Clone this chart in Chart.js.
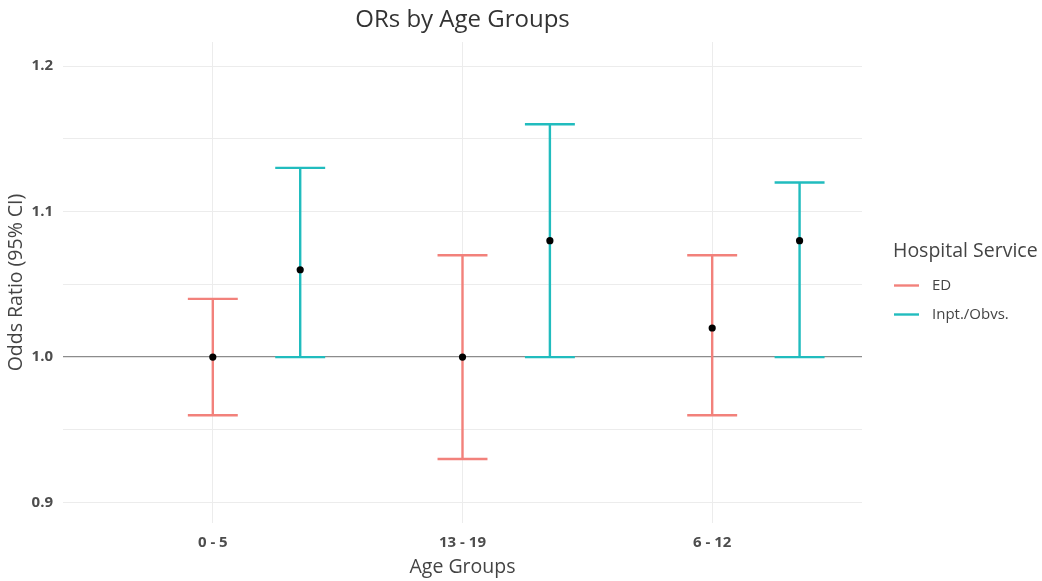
<!DOCTYPE html>
<html>
<head>
<meta charset="utf-8">
<script src="https://cdn.jsdelivr.net/npm/chart.js@4.4.1/dist/chart.umd.min.js"></script>
<style>
  body { margin: 0; background: #fff; }
</style>
</head>
<body>
<canvas id="orChart" width="1042" height="581"></canvas>
<script>
const ageGroups = ["0 - 5", "13 - 19", "6 - 12"]
const services = ["ED", "Inpt./Obvs."]
const edOR = [1.00, 1.00, 1.02]
const edLow = [0.96, 0.93, 0.96]
const edHigh = [1.04, 1.07, 1.07]
const inptOR = [1.06, 1.08, 1.08]
const inptLow = [1.00, 1.00, 1.00]
const inptHigh = [1.13, 1.16, 1.12]
const yTicks = [0.9, 0.95, 1.0, 1.05, 1.1, 1.15, 1.2]
const yTickLabels = ["0.9", "", "1.0", "", "1.1", "", "1.2"]
const chartTitle = "ORs by Age Groups"

// styling
const serviceColors = ["#F2817B", "#21BCBE"]
const dodge = [0, 0.35]
const capHalf = 0.1
const fontFamily = "'Open Sans', 'Noto Sans', sans-serif"

function makePoints(values, offset) {
    return values.map((v, j) => ({ x: j + 1 + offset, y: v }))
}

const errorBars = {
    id: 'errorBars',
    beforeDatasetsDraw(chart) {
        const ctx = chart.ctx
        const xs = chart.scales.x
        const ys = chart.scales.y
        chart.data.datasets.forEach((ds, i) => {
            ctx.save()
            ctx.strokeStyle = serviceColors[i]
            ctx.lineWidth = 2.4
            ds.data.forEach((p, j) => {
                const x = xs.getPixelForValue(p.x)
                const xl = xs.getPixelForValue(p.x - capHalf)
                const xr = xs.getPixelForValue(p.x + capHalf)
                const yl = ys.getPixelForValue(ds.low[j])
                const yh = ys.getPixelForValue(ds.high[j])
                ctx.beginPath()
                ctx.moveTo(x, yl)
                ctx.lineTo(x, yh)
                ctx.moveTo(xl, yl)
                ctx.lineTo(xr, yl)
                ctx.moveTo(xl, yh)
                ctx.lineTo(xr, yh)
                ctx.stroke()
            })
            ctx.restore()
        })
    }
}

// title centred on the panel + ggplot style legend on the right
const panelText = {
    id: 'panelText',
    afterDraw(chart) {
        const ctx = chart.ctx
        const area = chart.chartArea
        const mid = (area.top + area.bottom) / 2
        const left = area.right + 31
        ctx.save()
        ctx.textBaseline = 'middle'
        ctx.textAlign = 'center'
        ctx.fillStyle = '#333'
        ctx.font = "24px " + fontFamily
        ctx.fillText(chartTitle, (area.left + area.right) / 2, 20)

        ctx.textAlign = 'left'
        ctx.fillStyle = '#444'
        ctx.font = "19.5px " + fontFamily
        ctx.fillText('Hospital Service', left, mid - 31)
        ctx.font = "15px " + fontFamily
        services.forEach((s, i) => {
            const y = mid + 3 + i * 29
            ctx.strokeStyle = serviceColors[i]
            ctx.lineWidth = 2.4
            ctx.beginPath()
            ctx.moveTo(left + 1, y)
            ctx.lineTo(left + 26, y)
            ctx.stroke()
            ctx.fillStyle = '#444'
            ctx.fillText(s, left + 39, y)
        })
        ctx.restore()
    }
}

const ctx = document.getElementById('orChart')
new Chart(ctx, {
    type: 'scatter',
    data: {
        datasets: [
            { label: services[0], data: makePoints(edOR, dodge[0]), low: edLow, high: edHigh },
            { label: services[1], data: makePoints(inptOR, dodge[1]), low: inptLow, high: inptHigh }
        ]
    },
    options: {
        responsive: false,
        animation: false,
        layout: { padding: { left: 0, right: 180, top: 42, bottom: 0 } },
        elements: {
            point: { radius: 3.6, backgroundColor: '#000', borderColor: '#000', borderWidth: 0 }
        },
        scales: {
            x: {
                type: 'linear',
                min: 0.4,
                max: 3.6,
                afterBuildTicks: axis => { axis.ticks = ageGroups.map((g, j) => ({ value: j + 1 })) },
                afterFit: axis => { axis.height = 58 },
                ticks: {
                    callback: (v) => ageGroups[Math.round(v) - 1],
                    color: '#4d4d4d',
                    font: { family: fontFamily, size: 15, weight: 'bold' },
                    padding: 11,
                    maxRotation: 0
                },
                grid: { color: '#ececec', lineWidth: 1, drawTicks: false },
                border: { display: false },
                title: {
                    display: true,
                    text: 'Age Groups',
                    color: '#444',
                    font: { family: fontFamily, size: 19.5 },
                    padding: { top: 0, bottom: 2 }
                }
            },
            y: {
                min: 0.886,
                max: 1.2165,
                afterBuildTicks: axis => { axis.ticks = yTicks.map(v => ({ value: v })) },
                afterFit: axis => { axis.width = 63 },
                ticks: {
                    callback: (v, i) => yTickLabels[i],
                    color: '#4d4d4d',
                    font: { family: fontFamily, size: 15, weight: 'bold' },
                    padding: 10
                },
                grid: {
                    color: c => (c.tick && Math.abs(c.tick.value - 1.0) < 1e-6) ? '#8c8c8c' : '#ececec',
                    lineWidth: c => (c.tick && Math.abs(c.tick.value - 1.0) < 1e-6) ? 1.3 : 1,
                    drawTicks: false
                },
                border: { display: false },
                title: {
                    display: true,
                    text: 'Odds Ratio (95% CI)',
                    color: '#444',
                    font: { family: fontFamily, size: 19.5 },
                    padding: { top: 5, bottom: 0 }
                }
            }
        },
        plugins: {
            title: { display: false },
            tooltip: { enabled: false },
            legend: { display: false }
        }
    },
    plugins: [errorBars, panelText]
});
</script>
</body>
</html>
